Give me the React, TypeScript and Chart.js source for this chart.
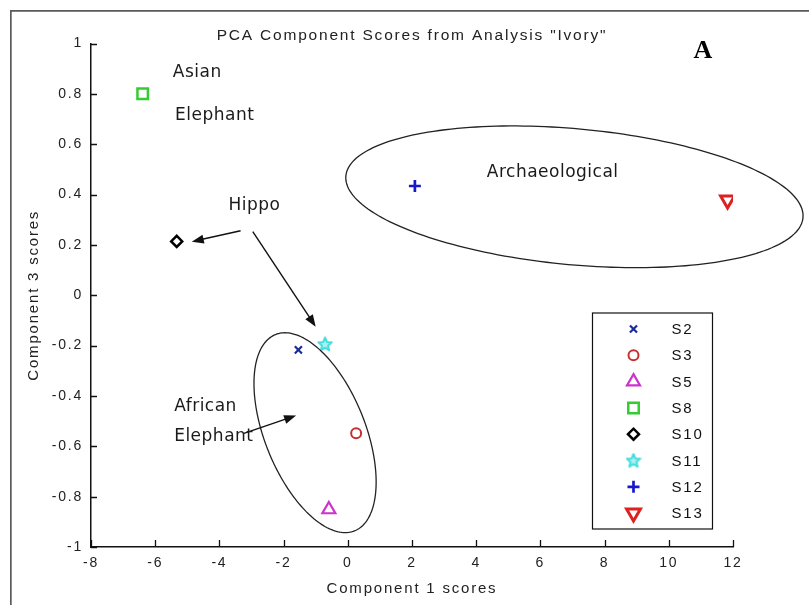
import React, { useEffect, useRef } from 'react';
import { Chart, registerables } from 'chart.js';
import { drawPoint } from 'chart.js/helpers';

Chart.register(...registerables);

// ---- data ----
const categories = ['S2', 'S3', 'S5', 'S8', 'S10', 'S11', 'S12', 'S13'];
const component1Scores = [-1.54, 0.26, -0.59, -6.39, -5.33, -0.71, 2.09, 11.83];
const component3Scores = [-0.217, -0.548, -0.851, 0.8, 0.214, -0.194, 0.434, 0.378];

const xTickValues = [-8, -6, -4, -2, 0, 2, 4, 6, 8, 10, 12];
const yTickValues = [-1, -0.8, -0.6, -0.4, -0.2, 0, 0.2, 0.4, 0.6, 0.8, 1];

// group labels (data units, left edge / vertical middle)
const groupLabels = ['Asian', 'Elephant', 'Hippo', 'Archaeological', 'African', 'Elephant'];
const groupLabelX = [-5.45, -5.38, -3.72, 4.33, -5.41, -5.41];
const groupLabelY = [0.883, 0.712, 0.355, 0.487, -0.442, -0.562];

// arrows tail -> head (data units)
const arrowTailX = [-3.34, -2.96, -3.26];
const arrowTailY = [0.256, 0.253, -0.55];
const arrowHeadX = [-4.86, -1.0, -1.61];
const arrowHeadY = [0.213, -0.125, -0.478];

// group ellipses: centre and semi-axis vectors (data units)
const ellipseCenterX = [-1.02, 7.06];
const ellipseCenterY = [-0.546, 0.391];
const ellipseMajorDX = [1.23, 7.12];
const ellipseMajorDY = [-0.39, -0.083];
const ellipseMinorDX = [-1.452, -0.193];
const ellipseMinorDY = [-0.074, -0.269];

// ---- styles ----
const markerStyles = ['crossRot', 'circle', 'triangle', 'rect', 'rectRot', 'pentagram', 'cross', 'triangle'];
const markerRotations = [0, 0, 0, 0, 0, 0, 0, 180];
const markerColors = ['#1c2a9a', '#c83030', '#cc33cc', '#33cc33', '#000000', '#44dddd', '#1818cc', '#dd2020'];
const markerRadius = [5, 5, 7.5, 7.4, 5.5, 7, 6, 8];
const markerBorder = [2.2, 2, 2.2, 2.5, 2.5, 1.8, 2.7, 3];

const SANS = '"Liberation Sans", Arial, sans-serif';

function makePentagram(color: string) {
  const c = document.createElement('canvas');
  c.width = 16;
  c.height = 16;
  const g = c.getContext('2d')!;
  g.strokeStyle = color;
  g.fillStyle = 'rgba(68,221,221,0.45)';
  g.lineWidth = 2;
  g.lineJoin = 'round';
  g.beginPath();
  for (let i = 0; i < 10; i++) {
    const r = i % 2 ? 3.2 : 7;
    const a = -Math.PI / 2 + (i * Math.PI) / 5;
    const px = 8 + r * Math.cos(a);
    const py = 8.5 + r * Math.sin(a);
    if (i === 0) g.moveTo(px, py);
    else g.lineTo(px, py);
  }
  g.closePath();
  g.fill();
  g.stroke();
  return c;
}

const decorPlugin = {
  id: 'decor',
  beforeDraw(chart: any) {
    const ctx = chart.ctx;
    ctx.letterSpacing = '1.8px';
    ctx.save();
    ctx.fillStyle = '#ffffff';
    ctx.fillRect(0, 0, chart.width, chart.height);
    ctx.strokeStyle = '#5a5a5a';
    ctx.lineWidth = 1.7;
    ctx.beginPath();
    ctx.moveTo(10.85, chart.height);
    ctx.lineTo(10.85, 10.85);
    ctx.lineTo(chart.width, 10.85);
    ctx.stroke();
    ctx.restore();
  },
  afterDatasetsDraw(chart: any) {
    const { ctx, chartArea } = chart;
    const xs = chart.scales.x;
    const ys = chart.scales.y;
    ctx.save();
    // ellipses
    ctx.strokeStyle = '#222';
    ctx.lineWidth = 1.3;
    for (let e = 0; e < ellipseCenterX.length; e++) {
      ctx.beginPath();
      for (let k = 0; k <= 200; k++) {
        const t = (k / 200) * Math.PI * 2;
        const vx = ellipseCenterX[e] + ellipseMajorDX[e] * Math.cos(t) + ellipseMinorDX[e] * Math.sin(t);
        const vy = ellipseCenterY[e] + ellipseMajorDY[e] * Math.cos(t) + ellipseMinorDY[e] * Math.sin(t);
        const px = xs.getPixelForValue(vx);
        const py = ys.getPixelForValue(vy);
        if (k === 0) ctx.moveTo(px, py);
        else ctx.lineTo(px, py);
      }
      ctx.closePath();
      ctx.stroke();
    }
    // arrows
    ctx.strokeStyle = '#111';
    ctx.fillStyle = '#111';
    ctx.lineWidth = 1.4;
    for (let a = 0; a < arrowTailX.length; a++) {
      const x0 = xs.getPixelForValue(arrowTailX[a]);
      const y0 = ys.getPixelForValue(arrowTailY[a]);
      const x1 = xs.getPixelForValue(arrowHeadX[a]);
      const y1 = ys.getPixelForValue(arrowHeadY[a]);
      const len = Math.hypot(x1 - x0, y1 - y0);
      const ux = (x1 - x0) / len;
      const uy = (y1 - y0) / len;
      const hl = 12;
      const hw = 4.5;
      ctx.beginPath();
      ctx.moveTo(x0, y0);
      ctx.lineTo(x1 - ux * hl * 0.8, y1 - uy * hl * 0.8);
      ctx.stroke();
      ctx.beginPath();
      ctx.moveTo(x1, y1);
      ctx.lineTo(x1 - ux * hl - uy * hw, y1 - uy * hl + ux * hw);
      ctx.lineTo(x1 - ux * hl + uy * hw, y1 - uy * hl - ux * hw);
      ctx.closePath();
      ctx.fill();
    }
    // group labels
    ctx.letterSpacing = '0.5px';
    ctx.font = '17px "DejaVu Sans", sans-serif';
    ctx.fillStyle = '#1a1a1a';
    ctx.textAlign = 'left';
    ctx.textBaseline = 'middle';
    for (let i = 0; i < groupLabels.length; i++) {
      ctx.fillText(groupLabels[i], xs.getPixelForValue(groupLabelX[i]), ys.getPixelForValue(groupLabelY[i]));
    }
    // panel letter
    ctx.letterSpacing = '0px';
    ctx.font = 'bold 26px "Liberation Serif", "Times New Roman", serif';
    ctx.fillStyle = '#000';
    ctx.textAlign = 'center';
    ctx.fillText('A', chartArea.right - 30, chartArea.top + 8);
    ctx.restore();
  },
  afterDraw(chart: any) {
    const { ctx, chartArea } = chart;
    const xs = chart.scales.x;
    const ys = chart.scales.y;
    ctx.save();
    // inward tick marks
    ctx.strokeStyle = '#111';
    ctx.lineWidth = 1.3;
    ctx.beginPath();
    xTickValues.forEach((v) => {
      const px = Math.round(xs.getPixelForValue(v)) + 0.5;
      ctx.moveTo(px, chartArea.bottom);
      ctx.lineTo(px, chartArea.bottom - 7);
    });
    yTickValues.forEach((v) => {
      const py = Math.round(ys.getPixelForValue(v)) + 0.5;
      ctx.moveTo(chartArea.left, py);
      ctx.lineTo(chartArea.left + 6, py);
    });
    ctx.stroke();

    // legend box
    const w = 120;
    const h = 216;
    const right = chartArea.right - 20.5;
    const bottom = chartArea.bottom - 18;
    const left = right - w;
    const top = bottom - h;
    ctx.fillStyle = '#ffffff';
    ctx.fillRect(left, top, w, h);
    ctx.strokeStyle = '#111';
    ctx.lineWidth = 1.2;
    ctx.strokeRect(left, top, w, h);
    chart.data.datasets.forEach((ds: any, i: number) => {
      const y = top + 16 + i * 26.3;
      ctx.save();
      ctx.strokeStyle = ds.borderColor;
      ctx.fillStyle = ds.backgroundColor;
      ctx.lineWidth = ds.pointBorderWidth;
      drawPoint(
        ctx,
        {
          pointStyle: ds.pointStyle,
          rotation: ds.pointRotation || 0,
          radius: ds.pointRadius,
          borderWidth: ds.pointBorderWidth,
        } as any,
        left + 41,
        y
      );
      ctx.restore();
      ctx.letterSpacing = '1.8px';
      ctx.fillStyle = '#111';
      ctx.font = '15px ' + SANS;
      ctx.textAlign = 'left';
      ctx.textBaseline = 'middle';
      ctx.fillText(ds.label, left + 79, y + 1);
    });
    ctx.restore();
  },
};

export default function App() {
  const ref = useRef<HTMLCanvasElement | null>(null);

  useEffect(() => {
    document.body.style.margin = '0';
    const canvas = ref.current;
    if (!canvas) return;
    const datasets = categories.map((label, i) => ({
      label,
      data: [{ x: component1Scores[i], y: component3Scores[i] }],
      pointStyle: markerStyles[i] === 'pentagram' ? makePentagram(markerColors[i]) : markerStyles[i],
      pointRotation: markerRotations[i],
      pointRadius: markerRadius[i],
      pointHoverRadius: markerRadius[i],
      pointBorderWidth: markerBorder[i],
      borderColor: markerColors[i],
      backgroundColor: 'rgba(0,0,0,0)',
      showLine: false,
    }));

    const chart = new Chart(canvas, {
      type: 'scatter',
      data: { datasets } as any,
      options: {
        animation: false,
        responsive: false,
        devicePixelRatio: 1,
        layout: { padding: { top: 0, right: 76, bottom: 0, left: 0 } },
        plugins: {
          legend: { display: false },
          tooltip: { enabled: false },
          title: {
            display: true,
            text: 'PCA Component Scores from Analysis "Ivory"',
            color: '#222',
            fullSize: false,
            font: { family: SANS, size: 15.5, weight: 'normal', lineHeight: 1 },
            padding: { top: 28, bottom: 0 },
          },
        },
        scales: {
          x: {
            type: 'linear',
            min: -8,
            max: 12,
            grid: { display: false, drawTicks: false },
            border: { display: true, color: '#111', width: 1.5 },
            afterBuildTicks: (s: any) => {
              s.ticks = xTickValues.map((v) => ({ value: v }));
            },
            afterFit: (s: any) => {
              s.height = 58;
            },
            ticks: {
              autoSkip: false,
              maxRotation: 0,
              padding: 8,
              color: '#222',
              font: { family: SANS, size: 14 },
              callback: (v: any) => String(Number(Number(v).toFixed(1))),
            },
            title: {
              display: true,
              text: 'Component 1 scores',
              color: '#222',
              font: { family: SANS, size: 15 },
              padding: { top: 0, bottom: 7 },
            },
          },
          y: {
            type: 'linear',
            min: -1,
            max: 1,
            grid: { display: false, drawTicks: false },
            border: { display: true, color: '#111', width: 1.5 },
            afterBuildTicks: (s: any) => {
              s.ticks = yTickValues.map((v) => ({ value: v }));
            },
            afterFit: (s: any) => {
              s.width = 91;
            },
            ticks: {
              autoSkip: false,
              padding: 8,
              color: '#222',
              font: { family: SANS, size: 14 },
              callback: (v: any) => String(Number(Number(v).toFixed(1))),
            },
            title: {
              display: true,
              text: 'Component 3 scores',
              color: '#222',
              font: { family: SANS, size: 15 },
              padding: { top: 25, bottom: 0 },
            },
          },
        },
      } as any,
      plugins: [decorPlugin],
    });
    return () => chart.destroy();
  }, []);

  return (
    <div style={{ width: 809, height: 605 }}>
      <canvas ref={ref} width={809} height={605} style={{ display: 'block' }} />
    </div>
  );
}
